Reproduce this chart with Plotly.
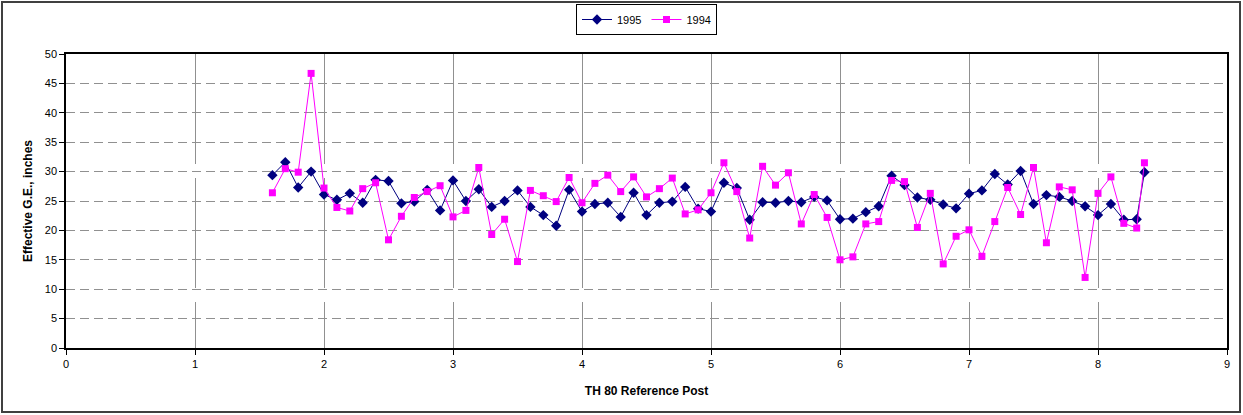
import plotly.graph_objects as go

# Reference post positions (miles)
posts = [1.6, 1.7, 1.8, 1.9, 2.0, 2.1, 2.2, 2.3, 2.4, 2.5, 2.6, 2.7, 2.8, 2.9,
         3.0, 3.1, 3.2, 3.3, 3.4, 3.5, 3.6, 3.7, 3.8, 3.9, 4.0, 4.1, 4.2, 4.3,
         4.4, 4.5, 4.6, 4.7, 4.8, 4.9, 5.0, 5.1, 5.2, 5.3, 5.4, 5.5, 5.6, 5.7,
         5.8, 5.9, 6.0, 6.1, 6.2, 6.3, 6.4, 6.5, 6.6, 6.7, 6.8, 6.9, 7.0, 7.1,
         7.2, 7.3, 7.4, 7.5, 7.6, 7.7, 7.8, 7.9, 8.0, 8.1, 8.2, 8.3, 8.36]

# Effective G.E. (inches), 1995 survey
ge_1995 = [29.4, 31.6, 27.3, 30.0, 26.1, 25.2, 26.3, 24.7, 28.6, 28.4, 24.6, 24.9,
           26.9, 23.4, 28.5, 25.0, 27.0, 24.0, 25.0, 26.8, 24.0, 22.6, 20.8, 26.9,
           23.2, 24.5, 24.7, 22.3, 26.4, 22.6, 24.7, 24.9, 27.4, 23.7, 23.2, 28.1,
           27.2, 21.8, 24.8, 24.7, 25.0, 24.8, 25.7, 25.1, 21.9, 22.0, 23.1, 24.1,
           29.3, 27.7, 25.6, 25.2, 24.4, 23.75, 26.25, 26.8, 29.6, 27.8, 30.1, 24.5,
           26.0, 25.7, 25.0, 24.1, 22.6, 24.5, 21.8, 21.9, 29.9]

# Effective G.E. (inches), 1994 survey
ge_1994 = [26.4, 30.5, 29.9, 46.7, 27.2, 23.9, 23.3, 27.1, 28.1, 18.4, 22.4, 25.6,
           26.6, 27.6, 22.3, 23.4, 30.7, 19.3, 21.9, 14.7, 26.8, 25.9, 24.9, 29.0,
           24.7, 28.0, 29.4, 26.6, 29.1, 25.7, 27.1, 28.9, 22.8, 23.5, 26.4, 31.5,
           26.6, 18.7, 30.9, 27.7, 29.8, 21.1, 26.1, 22.2, 15.0, 15.5, 21.1, 21.5,
           28.5, 28.3, 20.5, 26.3, 14.3, 19.0, 20.1, 15.6, 21.5, 27.3, 22.7, 30.7,
           17.9, 27.4, 26.9, 12.0, 26.3, 29.1, 21.2, 20.4, 31.5]

x_ticks = [0, 1, 2, 3, 4, 5, 6, 7, 8, 9]
y_ticks = [0, 5, 10, 15, 20, 25, 30, 35, 40, 45, 50]

FONT = "Liberation Sans, Arial, sans-serif"

fig = go.Figure()
fig.add_trace(go.Scatter(
    x=posts, y=ge_1995, name="1995", mode="lines+markers",
    line=dict(color="#000080", width=1),
    marker=dict(symbol="diamond", size=8, color="#000080"),
))
fig.add_trace(go.Scatter(
    x=posts, y=ge_1994, name="1994", mode="lines+markers",
    line=dict(color="#FF00FF", width=1),
    marker=dict(symbol="square", size=7, color="#FF00FF"),
))

L, R, T, B = 66, 16, 54, 67
W, H = 1243, 415
pw, ph = W - L - R, H - T - B

def px_x(p):
    return (p - L) / pw

def px_y(p):
    return (H - B - p) / ph

# outer chart border
fig.add_shape(type="rect", xref="paper", yref="paper",
              x0=px_x(2), x1=px_x(1240), y0=px_y(412), y1=px_y(2),
              line=dict(color="#404040", width=2), layer="below")

fig.update_layout(
    width=W, height=H,
    margin=dict(l=L, r=R, t=T, b=B, autoexpand=False),
    paper_bgcolor="white", plot_bgcolor="white",
    font=dict(family=FONT, size=11, color="black"),
    showlegend=True,
    legend=dict(
        orientation="h", x=0.5, xanchor="center", y=px_y(4), yanchor="top",
        bordercolor="black", borderwidth=1, bgcolor="white",
        font=dict(family=FONT, size=11, color="black"),
        itemwidth=30, tracegroupgap=0,
    ),
    xaxis=dict(
        range=[0, 9], tickvals=x_ticks, ticktext=[str(v) for v in x_ticks],
        showgrid=True, gridcolor="#909090", gridwidth=1, griddash="110px,14px",
        showline=True, linecolor="black", linewidth=1.5, mirror=True,
        ticks="outside", ticklen=5, tickcolor="black",
        zeroline=False,
        title=dict(text="<b>TH 80 Reference Post</b>", font=dict(size=12), standoff=18),
    ),
    yaxis=dict(
        range=[0, 50], tickvals=y_ticks, ticktext=[str(v) for v in y_ticks],
        showgrid=True, gridcolor="#909090", gridwidth=1, griddash="9px,5px",
        showline=True, linecolor="black", linewidth=1.5, mirror=True,
        ticks="outside", ticklen=5, tickcolor="black",
        zeroline=False,
        title=dict(text="<b>Effective G.E., inches</b>", font=dict(size=12), standoff=10),
    ),
)

fig.write_html("out.html")
